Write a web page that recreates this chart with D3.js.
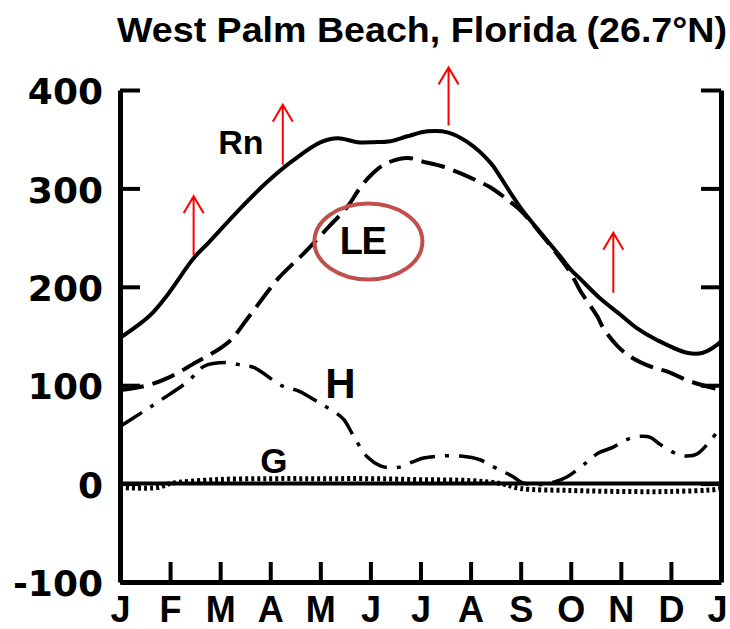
<!DOCTYPE html>
<html>
<head>
<meta charset="utf-8">
<script src="https://cdn.jsdelivr.net/npm/d3@7"></script>
<style>
    body { margin: 0; background: #fff; }
    svg { display: block; }
</style>
</head>
<body>
<div id="chart"></div>
<script>
// month labels along the bottom, y tick values
const monthLabels = ["J", "F", "M", "A", "M", "J", "J", "A", "S", "O", "N", "D", "J"];
const yTicks = [400, 300, 200, 100, 0, -100];

// curves: position in months from 1 Jan, value in W/m2
const rnMonth = [0, 0.58, 0.92, 1.47, 1.77, 2.41, 2.97, 3.47, 4.01, 4.35, 4.74, 5.06, 5.40, 5.74, 6.14, 6.54, 6.94, 7.40, 7.59, 7.79, 8.03, 8.79, 9.01, 9.19, 9.59, 10.03, 10.32, 10.72, 11.32, 11.64, 11.92, 12];
const rnValue = [148, 170, 190, 229, 245, 280, 308, 329, 347, 351, 347, 347, 348, 353, 358, 357, 347, 326, 312, 296, 278, 231, 217, 208, 188, 170, 158, 146, 133, 133, 141, 145];

const leMonth = [0, 0.56, 0.98, 1.51, 2.17, 2.55, 3.17, 3.65, 4.15, 4.55, 4.80, 5.06, 5.34, 5.74, 6.06, 6.46, 6.86, 7.16, 7.40, 7.80, 8.03, 8.79, 9.01, 9.19, 9.53, 9.65, 9.93, 10.19, 10.64, 10.92, 11.38, 12];
const leValue = [95, 100, 108, 123, 144, 168, 209, 233, 260, 282, 301, 316, 326, 331, 327, 322, 314, 307, 301, 286, 276, 229, 213, 196, 170, 158, 140, 129, 118, 114, 104, 95];

const hMonth = [0, 0.46, 0.82, 1.36, 1.67, 2.11, 2.45, 2.67, 3.25, 3.57, 4.01, 4.31, 4.47, 4.70, 4.94, 5.20, 5.40, 5.60, 5.84, 6.06, 6.40, 6.80, 7.20, 7.46, 7.66, 7.85, 8.03, 8.39, 8.69, 8.93, 9.33, 9.55, 9.85, 10.13, 10.39, 10.59, 10.78, 11.12, 11.32, 11.52, 11.92, 12];
const hValue = [58, 73, 85, 104, 119, 123, 120, 118, 99, 94, 81, 72, 65, 45, 27, 18, 16, 17, 22, 26, 28, 28, 24, 17, 12, 7, 1, -1, 2, 7, 22, 31, 37, 45, 48, 47, 40, 30, 28, 30, 52, 57];

const gMonth = [0, 0.75, 1.0, 1.9, 3, 4, 5, 6, 7, 7.6, 8, 9, 10, 11, 11.9, 12];
const gValue = [-4, -4, 0, 4, 5, 5, 5, 4, 3, 0, -5, -7, -8, -8, -6, -5];

// red arrows: month position, tail value, tip value
const arrowMonth = [1.47, 3.25, 6.56, 9.85];
const arrowTail = [232, 324, 364, 194];
const arrowTip = [292, 385, 423, 255];

const W = 730, H = 629;

let svg = d3.select("#chart").append("svg")
    .attr("width", W)
    .attr("height", H);

svg.append("rect")
    .attr("width", W)
    .attr("height", H)
    .attr("fill", "#fff");

let x = d3.scaleLinear().domain([0, 12]).range([120, 721]);
let y = d3.scaleLinear().domain([-100, 400]).range([582, 90]);

// title
svg.append("text")
    .attr("x", 117)
    .attr("y", 42)
    .attr("textLength", 610)
    .attr("lengthAdjust", "spacingAndGlyphs")
    .style("font-family", "'Liberation Sans', Arial, sans-serif")
    .style("font-weight", "bold")
    .style("font-size", "35px")
    .text("West  Palm Beach, Florida (26.7°N)");

// axes
let bottomAxis = d3.axisBottom(x)
    .tickValues(d3.range(0, 13))
    .tickFormat(i => monthLabels[i])
    .tickSizeInner(-20)
    .tickSizeOuter(0)
    .tickPadding(14);

let leftAxis = d3.axisLeft(y)
    .tickValues(yTicks)
    .tickFormat(d => d < 0 ? "-" + Math.abs(d) : String(d))
    .tickSizeInner(-20)
    .tickSizeOuter(0)
    .tickPadding(17);

let rightAxis = d3.axisRight(y)
    .tickValues(yTicks)
    .tickFormat("")
    .tickSizeInner(-20)
    .tickSizeOuter(0);

let gx = svg.append("g")
    .attr("transform", `translate(0, ${y(-100)})`)
    .call(bottomAxis);
gx.selectAll("text")
    .style("font-family", "'Liberation Sans', Arial, sans-serif")
    .style("font-weight", "bold")
    .style("font-size", "36px")
    .attr("fill", "#000");
// last J sits against the right edge
gx.selectAll("text").filter(d => d === 12).attr("dx", -4);

let gy = svg.append("g")
    .attr("transform", `translate(${x(0)}, 0)`)
    .call(leftAxis);
gy.selectAll("text")
    .style("font-family", "'DejaVu Sans', sans-serif")
    .style("font-weight", "bold")
    .style("font-size", "36px")
    .attr("dy", "0.38em")
    .attr("fill", "#000");

let gr = svg.append("g")
    .attr("transform", `translate(${x(12)}, 0)`)
    .call(rightAxis);

[gx, gy, gr].forEach(function(g) {
    g.select(".domain").attr("stroke", "#000").attr("stroke-width", 5);
    g.selectAll(".tick line").attr("stroke", "#000").attr("stroke-width", 4);
});

// zero line
svg.append("line")
    .attr("x1", x(0))
    .attr("x2", x(12))
    .attr("y1", y(0))
    .attr("y2", y(0))
    .attr("stroke", "#000")
    .attr("stroke-width", 4);

// curves
let line = d3.line()
    .x(d => x(d[0]))
    .y(d => y(d[1]))
    .curve(d3.curveCatmullRom.alpha(0.5));

const series = [
    {name: "Rn", m: rnMonth, v: rnValue, dash: null, width: 4},
    {name: "LE", m: leMonth, v: leValue, dash: "24 9", width: 4},
    {name: "H", m: hMonth, v: hValue, dash: "26 10 4 10", width: 3.5},
    {name: "G", m: gMonth, v: gValue, dash: "3 3", width: 5}
];

series.forEach(function(s) {
    let pts = s.m.map((m, i) => [m, s.v[i]]);
    svg.append("path")
        .datum(pts)
        .attr("d", line)
        .attr("fill", "none")
        .attr("stroke", "#000")
        .attr("stroke-width", s.width)
        .attr("stroke-dasharray", s.dash)
        .attr("stroke-linecap", "butt");
});

// curve labels
const labelFont = "'Liberation Sans', Arial, sans-serif";
svg.append("text").attr("x", x(1.96)).attr("y", y(335))
    .style("font-family", labelFont).style("font-weight", "bold").style("font-size", "34px")
    .text("Rn");
svg.append("text").attr("x", x(4.39)).attr("y", y(233))
    .attr("textLength", 47)
    .style("font-family", labelFont).style("font-weight", "bold").style("font-size", "38px")
    .text("LE");
svg.append("text").attr("x", x(4.1)).attr("y", y(87))
    .style("font-family", labelFont).style("font-weight", "bold").style("font-size", "42px")
    .text("H");
svg.append("text").attr("x", x(2.8)).attr("y", y(11))
    .style("font-family", labelFont).style("font-weight", "bold").style("font-size", "35px")
    .text("G");

// red ellipse round LE
svg.append("ellipse")
    .attr("cx", x(4.96))
    .attr("cy", y(246))
    .attr("rx", 54)
    .attr("ry", 38)
    .attr("fill", "none")
    .attr("stroke", "#C0504D")
    .attr("stroke-width", 4);

// red arrows
arrowMonth.forEach(function(m, i) {
    let ax = x(m), y0 = y(arrowTail[i]), y1 = y(arrowTip[i]);
    svg.append("path")
        .attr("d", `M${ax},${y0}L${ax},${y1}M${ax - 10},${y1 + 17}L${ax},${y1}L${ax + 10},${y1 + 17}`)
        .attr("fill", "none")
        .attr("stroke", "#ff0000")
        .attr("stroke-width", 2);
});
</script>
</body>
</html>
